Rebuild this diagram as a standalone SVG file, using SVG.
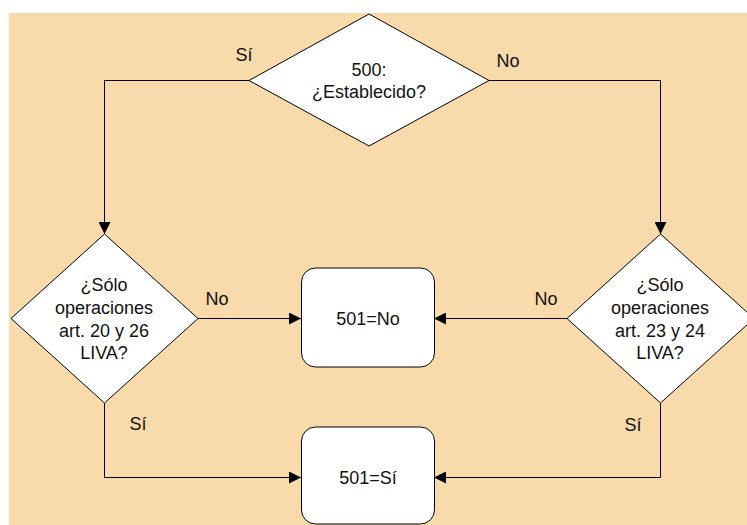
<svg xmlns="http://www.w3.org/2000/svg" width="747" height="525" viewBox="0 0 747 525">
<defs>
<style>
.shape{fill:#fff;stroke:#000;stroke-width:1}
.conn{fill:none;stroke:#000;stroke-width:1}
text{font-family:"Liberation Sans",Arial,sans-serif;font-size:18px;fill:#111;text-anchor:middle}
</style>
<marker id="arr" markerUnits="userSpaceOnUse" markerWidth="12" markerHeight="12" viewBox="0 0 10 10" refX="10" refY="5" orient="auto">
<path d="M0,0 L10,5 L0,10 Z" fill="#000"/>
</marker>
</defs>
<rect x="9" y="13" width="738" height="512" fill="#F8DAAB"/>
<g id="connectors">
<path class="conn" d="M249,80.5 H104.5 V234" marker-end="url(#arr)"/>
<path class="conn" d="M489,80.5 H660.5 V234" marker-end="url(#arr)"/>
<path class="conn" d="M198,318.5 H301" marker-end="url(#arr)"/>
<path class="conn" d="M567,318.5 H434" marker-end="url(#arr)"/>
<path class="conn" d="M104.5,403 V477.5 H301" marker-end="url(#arr)"/>
<path class="conn" d="M660.5,403 V477.5 H434" marker-end="url(#arr)"/>
<text x="244" y="61">Sí</text>
<text x="508" y="67">No</text>
<text x="217" y="305">No</text>
<text x="546" y="305">No</text>
<text x="138" y="430">Sí</text>
<text x="633" y="431">Sí</text>
</g>
<g id="d500">
<polygon class="shape" points="369,14 489,80.5 369,146 249,80.5"/>
<text x="369" y="76">500:</text>
<text x="369" y="98">¿Establecido?</text>
</g>
<g id="dLeft">
<polygon class="shape" points="104.5,234 198,318.5 104.5,403 11,318.5"/>
<text x="104" y="291">¿Sólo</text>
<text x="104" y="314">operaciones</text>
<text x="104" y="337">art. 20 y 26</text>
<text x="104" y="359">LIVA?</text>
</g>
<g id="dRight">
<polygon class="shape" points="660.5,234 754,318.5 660.5,403 567,318.5"/>
<text x="660" y="291">¿Sólo</text>
<text x="660" y="314">operaciones</text>
<text x="660" y="337">art. 23 y 24</text>
<text x="660" y="359">LIVA?</text>
</g>
<g id="bNo">
<rect class="shape" x="301.5" y="268" width="133" height="99" rx="14"/>
<text x="368" y="325">501=No</text>
</g>
<g id="bSi">
<rect class="shape" x="301.5" y="427" width="133" height="97" rx="14"/>
<text x="368" y="484">501=Sí</text>
</g>
</svg>
